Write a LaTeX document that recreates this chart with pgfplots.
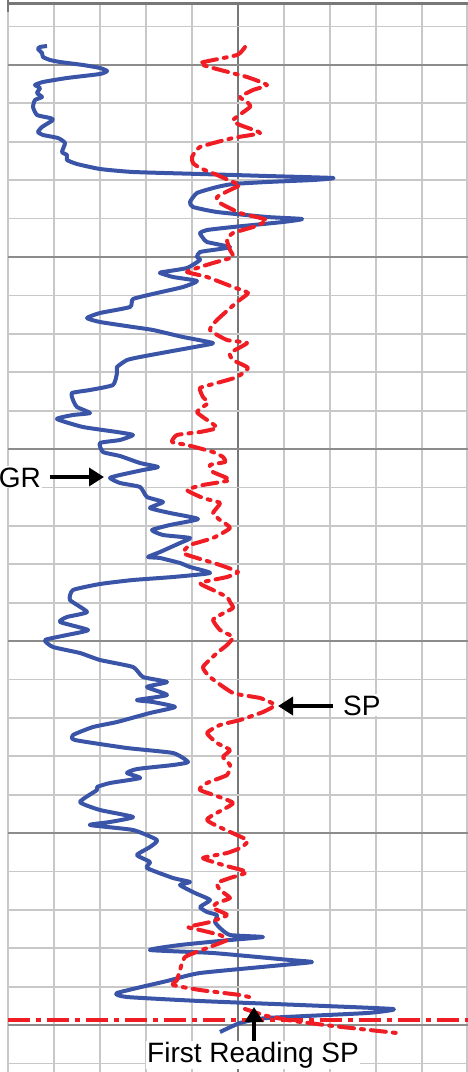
\documentclass[border=0pt]{standalone}
\usepackage{pgfplots}
\pgfplotsset{compat=1.18}
\usepackage{fontspec}
\setmainfont{Liberation Sans}
\usetikzlibrary{arrows.meta}
\definecolor{grblue}{RGB}{58,84,168}
\definecolor{spred}{RGB}{240,30,36}
\definecolor{gridminor}{RGB}{200,200,200}
\definecolor{gridmajor}{RGB}{140,140,140}
\definecolor{gridaxis}{RGB}{120,120,120}

\begin{document}
\begin{tikzpicture}
\begin{axis}[
  width=468bp, height=1072bp, scale only axis,
  xmin=0, xmax=468, ymin=0, ymax=1072, y dir=reverse,
  hide axis, clip=true,
]
% track grid: vertical divisions
\pgfplotsinvokeforeach{8,54,100,146,192,284,330,376,422,467}{
  \draw[gridminor, line width=1.8bp] (axis cs:#1,4) -- (axis cs:#1,1072);
}
\draw[gridaxis, line width=1.8bp] (axis cs:238,4) -- (axis cs:238,1072);
% depth grid: minor and major lines
\pgfplotsinvokeforeach{26.6,103.4,141.8,180.2,218.6,295.4,333.8,372.2,410.6,487.4,525.8,564.2,602.6,679.4,717.8,756.2,794.6,871.4,909.8,948.2,986.6,1063.4}{
  \draw[gridminor, line width=1.8bp] (axis cs:8,#1) -- (axis cs:468,#1);
}
\pgfplotsinvokeforeach{65,257,449,641,833,1025}{
  \draw[gridmajor, line width=2.2bp] (axis cs:8,#1) -- (axis cs:468,#1);
}
\draw[gridaxis, line width=3bp] (axis cs:8,4) -- (axis cs:468,4);
\draw[gridaxis, line width=1.5bp] (axis cs:8,0) -- (axis cs:8,12);

% gamma ray log
\addplot[grblue, line width=4bp, line join=round, smooth, tension=0.3] coordinates {
(47,46)(40,47)(38,49)(42,53)(43,57)(50,60)(60,62)(83,65)(100,68)(107,71)(100,74)(67,78)
(43,82)(35,85)(40,88)(37,93)(42,97)(35,100)(33,107)(37,115)(50,118)(53,120)(42,127)
(38,132)(43,135)(58,138)(65,143)(62,152)(67,155)(67,160)(77,164)(100,169)(133,172)
(200,174)(267,176)(333,178)(313,180)(267,182)(233,184)(217,187)(197,193)(190,202)
(193,207)(217,212)(267,217)(302,219)(283,222)(233,227)(207,230)(200,233)(203,238)
(207,242)(230,247)(220,249)(200,252)(197,257)(200,260)(187,268)(163,272)(160,273)
(173,277)(197,281)(183,287)(157,293)(133,299)(130,307)(100,313)(87,318)(100,322)
(133,327)(153,330)(183,337)(213,343)(200,346)(167,352)(140,357)(127,360)(117,367)
(117,373)(113,385)(90,390)(72,393)(73,400)(77,407)(90,413)(73,415)(57,419)(83,427)
(117,432)(133,435)(120,440)(100,443)(103,452)(120,456)(140,463)(158,467)(143,470)
(120,475)(110,478)(120,483)(140,487)(147,497)(163,502)(150,508)(170,513)(198,519)
(170,525)(152,530)(163,535)(190,538)(180,543)(160,552)(148,557)(160,558)(180,563)
(190,567)(210,573)(173,577)(133,580)(100,584)(73,590)(70,600)(87,612)(67,617)(60,622)
(88,630)(67,635)(45,640)(53,647)(80,653)(100,660)(133,667)(143,677)(167,682)(147,687)
(167,695)(137,700)(153,702)(175,707)(150,713)(117,722)(93,727)(73,735)(75,740)(127,748)
(173,753)(188,762)(173,765)(137,769)(127,773)(140,778)(110,783)(97,787)(97,790)(80,802)
(100,810)(133,817)(110,822)(90,825)(133,830)(157,840)(150,847)(137,855)(150,862)
(147,868)(173,878)(190,882)(180,885)(195,893)(210,900)(200,907)(207,912)(217,915)
(215,922)(220,928)(230,935)(263,937)(230,940)(180,945)(150,950)(213,953)(290,960)
(312,962)(283,965)(200,973)(167,981)(117,993)(127,997)(200,1001)(300,1005)(393,1009)
(367,1013)(267,1018)(240,1023)(220,1032)
};

% spontaneous potential log
\addplot[spred, line width=4bp, line join=round, line cap=round, smooth, tension=0.3,
  dash pattern=on 15bp off 7bp on 3bp off 7bp] coordinates {
(245,47)(237,55)(200,63)(213,68)(247,77)(267,85)(253,90)(240,97)(247,102)(250,107)
(233,120)(240,125)(260,133)(233,138)(200,147)(192,157)(193,163)(200,168)(217,175)
(233,182)(240,185)(230,190)(217,197)(220,203)(240,213)(267,220)(253,227)(233,233)
(227,240)(230,250)(233,257)(213,263)(197,268)(187,272)(207,277)(233,287)(248,293)
(237,302)(217,320)(210,330)(227,340)(247,343)(230,353)(233,360)(248,368)(237,377)
(217,383)(200,388)(203,397)(208,403)(197,412)(210,422)(217,428)(200,432)(177,435)
(172,442)(187,445)(213,452)(223,457)(225,462)(210,465)(213,472)(230,480)(203,485)
(187,490)(203,498)(220,503)(213,513)(220,520)(230,528)(213,538)(190,545)(183,553)
(197,558)(220,565)(238,572)(227,577)(200,583)(213,590)(227,597)(230,602)(233,608)
(220,615)(213,620)(220,630)(233,637)(227,645)(217,653)(203,667)(210,677)(233,693)
(260,698)(275,705)(263,712)(240,720)(220,725)(207,733)(217,743)(230,750)(223,757)
(230,765)(227,775)(207,783)(200,790)(233,803)(207,820)(247,840)(240,848)(227,853)
(203,858)(223,865)(247,872)(230,878)(217,883)(220,890)(230,898)(217,903)(213,908)
(227,915)(210,922)(188,927)(200,930)(220,935)(227,940)(207,948)(185,957)(180,970)
(177,980)(173,985)(200,990)(240,995)(253,998)
};
\addplot[spred, line width=4bp, line cap=round,
  dash pattern=on 15bp off 7bp on 3bp off 7bp] coordinates {
(245,1009)(257,1013)(267,1016)(293,1021)(333,1026)(397,1033)
};
% first-reading reference line
\addplot[spred, line width=4bp,
  dash pattern=on 22bp off 6bp on 5bp off 6bp] coordinates {
(8,1020)(468,1020)
};

% annotations
\node[fill=white, inner sep=1bp, anchor=base east, font=\fontsize{28bp}{30bp}\selectfont]
  at (axis cs:42,487) {GR};
\draw[black, line width=3.5bp, -{Triangle[length=15bp,width=18bp]}]
  (axis cs:50,477) -- (axis cs:104,477);
\node[fill=white, inner sep=1bp, anchor=base west, font=\fontsize{28bp}{30bp}\selectfont]
  at (axis cs:342,715) {SP};
\draw[black, line width=3.5bp, -{Triangle[length=15bp,width=18bp]}]
  (axis cs:333,706) -- (axis cs:278,706);
\draw[black, line width=3.5bp, -{Triangle[length=15bp,width=18bp]}]
  (axis cs:254,1042) -- (axis cs:254,1007);
\node[fill=white, inner sep=1bp, anchor=base, font=\fontsize{28bp}{30bp}\selectfont]
  at (axis cs:253,1062) {First Reading SP};
\end{axis}
\pgfresetboundingbox
\path (current axis.south west) rectangle (current axis.north east);
\end{tikzpicture}
\end{document}
